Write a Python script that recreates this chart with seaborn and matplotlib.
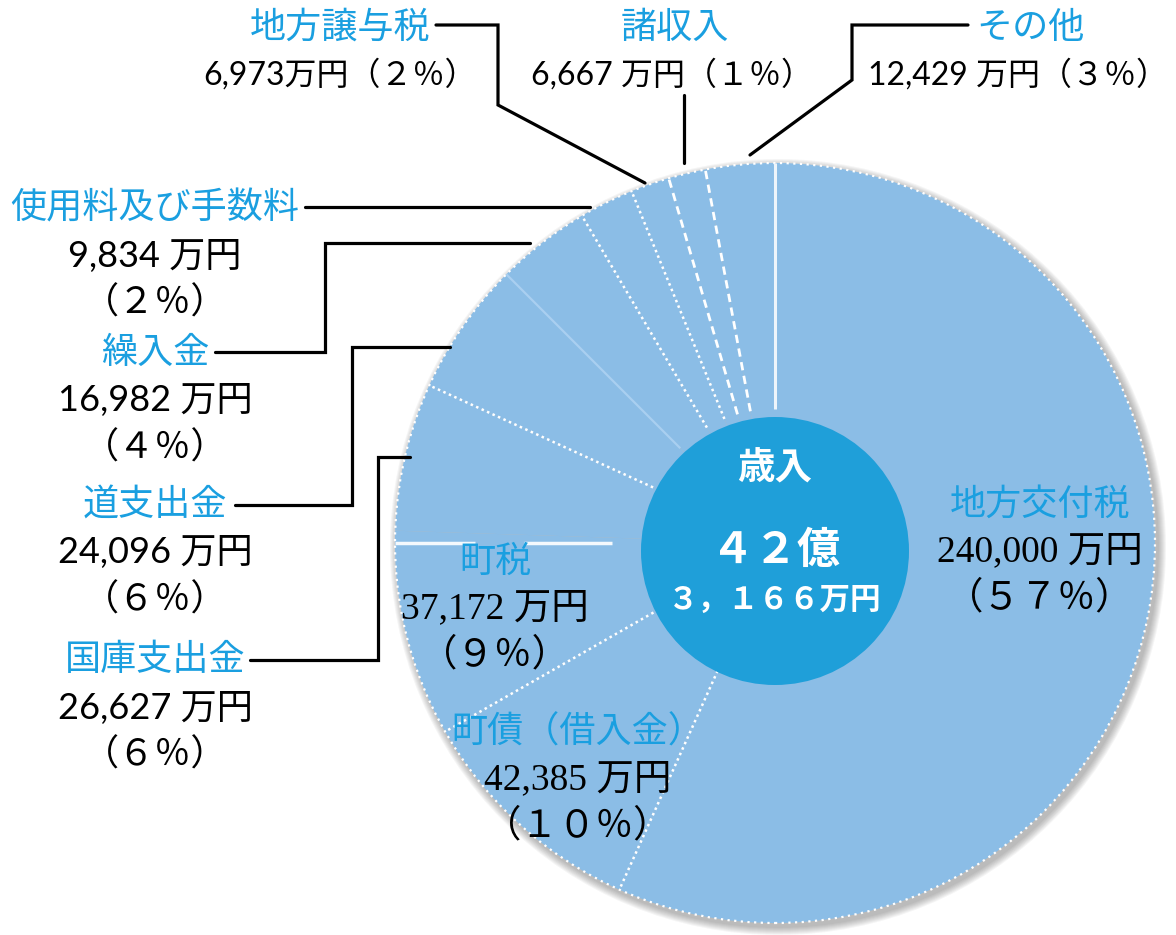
import numpy as np
import matplotlib.pyplot as plt
import matplotlib.patches as mpatches
import seaborn as sns

# revenue breakdown (万円), clockwise from 12 o'clock
categories = ['地方交付税', '町債（借入金）', '町税', '国庫支出金', '道支出金',
              '繰入金', '使用料及び手数料', '地方譲与税', '諸収入', 'その他']
amounts = [240000, 42385, 37172, 26627, 24096, 16982, 9834, 6973, 6667, 12429]
percents = [57, 10, 9, 6, 6, 4, 2, 2, 1, 3]
total_label = ['歳入', '４２億', '３，１６６万円']

# boundary style at the start of each wedge (clockwise)
edge_styles = ['solid', 'dot', 'dot', 'split', 'dot', 'faint', 'dot', 'dot', 'dash', 'dash']

W, H = 1176, 935
CX, CY, R = 775, H - 543, 380
RIN = 134
WEDGE = '#8bbde6'
CENTER = '#1f9fd9'
NAME_BLUE = '#1a9fe0'

sns.set_theme(style='white')
plt.rcParams['font.family'] = ['Noto Sans CJK JP', 'DejaVu Sans']

fig = plt.figure(figsize=(W / 100, H / 100), dpi=100)
ax = fig.add_axes([0, 0, 1, 1])

# soft shadow behind the pie
for k in range(1, 9):
    ax.add_patch(mpatches.Circle((CX + 3, CY - 4), R + k, color='#444444',
                                 alpha=0.05, lw=0, zorder=0))

ax.pie(amounts, colors=[WEDGE] * len(amounts), startangle=90, counterclock=False,
       center=(CX, CY), radius=R, wedgeprops=dict(linewidth=0, zorder=1))

ax.add_patch(mpatches.Circle((CX, CY), R, fill=False, ec='white', lw=1.6,
                             ls=(0, (1, 2)), zorder=2))

# wedge boundaries
cum = np.concatenate([[0], np.cumsum(amounts)[:-1]]) / np.sum(amounts)
for frac, style in zip(cum, edge_styles):
    th = np.deg2rad(90 - 360 * frac)
    ux, uy = np.cos(th), np.sin(th)
    if style == 'solid':
        segs, kw = [(RIN / R, 1.0)], dict(color='#eef5fb', lw=2.2, ls='-')
    elif style == 'split':
        # drawn level, as in the original artwork
        ux, uy = -1.0, 0.0
        segs, kw = [(0.79, 1.0), (0.43, 0.66)], dict(color='#f4f9fd', lw=2.5, ls='-')
    elif style == 'faint':
        segs, kw = [(RIN / R, 1.0)], dict(color='#a9cff0', lw=1.6, ls='-')
    elif style == 'dash':
        segs, kw = [(RIN / R, 1.0)], dict(color='white', lw=2.0, ls=(0, (3, 2)))
    else:
        segs, kw = [(RIN / R, 1.0)], dict(color='white', lw=1.8, ls=(0, (1, 1.4)))
    for a, b in segs:
        ax.plot([CX + a * R * ux, CX + b * R * ux], [CY + a * R * uy, CY + b * R * uy],
                zorder=2, solid_capstyle='butt', **kw)

ax.add_patch(mpatches.Circle((CX, H - 551), RIN, color=CENTER, lw=0, zorder=3))

ax.set_xlim(0, W)
ax.set_ylim(0, H)
ax.set_aspect('equal')
ax.axis('off')


def txt(x, y, s, size=26, color='black', family=None, **kw):
    fam = family or ['Noto Sans CJK JP', 'DejaVu Sans']
    ax.text(x, H - y, s, fontsize=size, color=color, ha='center', va='center',
            family=fam, zorder=5, **kw)


def leader(pts):
    xs = [p[0] for p in pts]
    ys = [H - p[1] for p in pts]
    ax.plot(xs, ys, color='black', lw=2.3, zorder=4, solid_joinstyle='miter')


def man(v):
    return f'{v:,} 万円'


def pct(p):
    fw = str.maketrans('0123456789', '０１２３４５６７８９')
    return f'（{str(p).translate(fw)}％）'


sans_num = ['Lato', 'Noto Sans CJK JP']
serif_num = ['Liberation Serif', 'Noto Sans CJK JP']

# top labels
txt(340, 28, categories[7], color=NAME_BLUE)
txt(340, 75, f'{amounts[7]:,}万円' + pct(percents[7]), size=23, family=sans_num)
leader([(436, 25), (498, 25), (498, 105), (645, 183)])

txt(675, 28, categories[8], color=NAME_BLUE)
txt(672, 75, man(amounts[8]) + pct(percents[8]), size=23, family=sans_num)
leader([(684, 95), (684, 163)])

txt(1030, 28, categories[9], color=NAME_BLUE)
txt(1018, 75, man(amounts[9]) + pct(percents[9]), size=23, family=sans_num)
leader([(968, 25), (852, 25), (852, 80), (750, 155)])

# left labels
left = [(6, 208, [(305, 207), (590, 207)]),
        (5, 353, [(215, 352), (325, 352), (325, 243), (530, 243)]),
        (4, 505, [(235, 505), (352, 505), (352, 347), (450, 347)]),
        (3, 660, [(250, 660), (378, 660), (378, 457), (410, 457)])]
for i, y0, pts in left:
    txt(155, y0, categories[i], color=NAME_BLUE)
    txt(155, y0 + 48, man(amounts[i]), family=sans_num)
    txt(155, y0 + 94, pct(percents[i]), family=sans_num)
    leader(pts)

# labels inside the pie
inside = [(0, 1040, 505), (2, 495, 562), (1, 578, 733)]
for i, x0, y0 in inside:
    txt(x0, y0, categories[i], color=NAME_BLUE)
    txt(x0, y0 + 47, man(amounts[i]), size=27, family=serif_num)
    txt(x0, y0 + 94, pct(percents[i]), size=27, family=serif_num)

# centre total
txt(775, 468, total_label[0], size=27, color='white', weight='bold')
txt(775, 550, total_label[1], size=31, color='white', weight='bold')
txt(775, 600, total_label[2], size=22, color='white', weight='bold')

fig.savefig('out.png', dpi=100)
